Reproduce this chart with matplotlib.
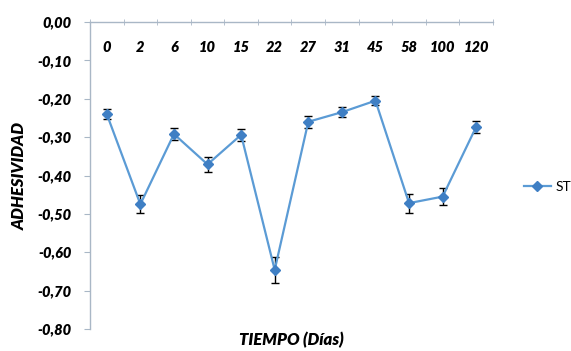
import numpy as np
import matplotlib.pyplot as plt

# adhesividad de la muestra ST a lo largo del almacenamiento
dias = ["0", "2", "6", "10", "15", "22", "27", "31", "45", "58", "100", "120"]
adhesividad = [-0.240, -0.475, -0.292, -0.371, -0.294, -0.646,
               -0.260, -0.235, -0.205, -0.472, -0.455, -0.273]
error = [0.012, 0.024, 0.016, 0.019, 0.016, 0.033,
         0.015, 0.013, 0.012, 0.025, 0.023, 0.015]
yticks = [0.0, -0.1, -0.2, -0.3, -0.4, -0.5, -0.6, -0.7, -0.8]

fuente = "Lato"
azul = "#5b9bd5"

fig = plt.figure(figsize=(5.71, 3.51), dpi=100)
ax = fig.add_axes([0.1576, 0.0627, 0.7058, 0.8746])

x = np.arange(len(dias))
# barras de error en negro, linea y marcadores encima
ax.errorbar(x, adhesividad, yerr=error, fmt="none", ecolor="black",
            elinewidth=1.0, capsize=3, capthick=1.0)
ax.plot(x, adhesividad, color=azul, lw=1.6, marker="D", markersize=5,
        markerfacecolor="#3f7fc4", markeredgecolor="#3f7fc4", label="ST")

ax.set_xlim(-0.5, len(dias) - 0.5)
ax.set_ylim(-0.8, 0.0)

# eje de categorias arriba (cruza en 0), etiquetas por debajo de la linea
ax.xaxis.set_ticks_position("top")
ax.set_xticks(x)
ax.set_xticklabels(dias, fontfamily=fuente, fontweight="heavy", fontstyle="italic",
                   fontsize=10.5)
ax.set_xticks(np.arange(len(dias) + 1) - 0.5, minor=True)
ax.tick_params(axis="x", which="major", length=0, pad=-23, labeltop=True,
               labelbottom=False)
ax.tick_params(axis="x", which="minor", length=4, direction="inout",
               color="#a9b7c6", top=True, bottom=False)

ax.set_yticks(yticks)
ax.set_yticklabels([f"{v:.2f}".replace(".", ",") for v in yticks],
                   fontfamily=fuente, fontweight="heavy", fontstyle="italic",
                   fontsize=10.5)
ax.tick_params(axis="y", length=4, color="#a9b7c6", pad=9)

for lado in ["bottom", "right"]:
    ax.spines[lado].set_visible(False)
for lado in ["top", "left"]:
    ax.spines[lado].set_color("#a9b7c6")
    ax.spines[lado].set_linewidth(1.0)

fig.text(0.035, 0.5, "ADHESIVIDAD", rotation=90, ha="center", va="center",
         fontfamily=fuente, fontweight="heavy", fontstyle="italic", fontsize=12)
fig.text(0.51, 0.03, "TIEMPO (Días)", ha="center", va="center",
         fontfamily=fuente, fontweight="heavy", fontstyle="italic", fontsize=12)

ax.legend(loc="center left", bbox_to_anchor=(0.895, 0.467), bbox_transform=fig.transFigure,
          frameon=False, handlelength=2.0, handletextpad=0.3,
          prop={"family": fuente, "size": 10})

fig.savefig("out.png", dpi=100, facecolor="white")
